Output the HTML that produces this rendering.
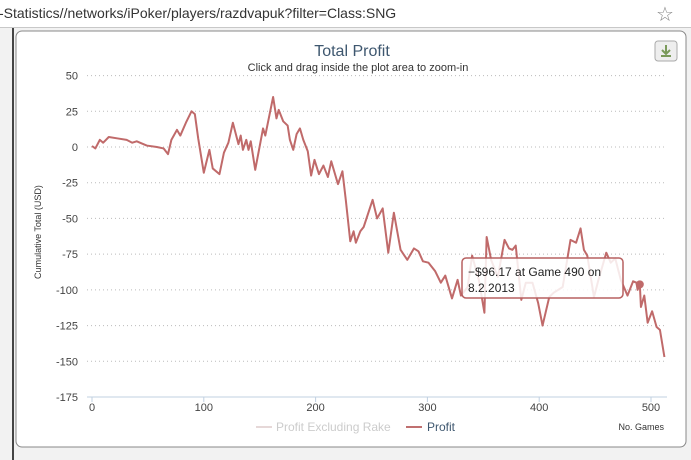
<!DOCTYPE html>
<html><head><meta charset="utf-8">
<style>
body{margin:0;width:691px;height:460px;overflow:hidden;background:#fff;font-family:"Liberation Sans","DejaVu Sans",sans-serif;}
#urlbar{position:absolute;left:0;top:0;width:691px;height:27px;background:#fff;border-bottom:1px solid #c8c8c8;}
#url{position:absolute;left:-1px;top:5px;font-size:14px;color:#333;}
#star{position:absolute;left:656px;top:2px;font-size:20px;color:#888;}
#frame{position:absolute;left:0;top:28px;width:691px;height:432px;background:#f2f2f2;}
svg{position:absolute;left:0;top:0;}
</style></head><body>
<div id="urlbar"><span id="url">-Statistics//networks/iPoker/players/razdvapuk?filter=Class:SNG</span><span id="star">☆</span></div>
<div id="frame"></div>
<svg id="chart" width="691" height="460">
<rect x="12" y="28" width="2" height="432" fill="#444"/>
<rect x="16" y="31" width="670" height="416" rx="6" fill="#fff" stroke="#888"/>
<text x="352" y="56" text-anchor="middle" font-size="16" fill="#3e576f">Total Profit</text>
<text x="358" y="71" text-anchor="middle" font-size="11" fill="#333">Click and drag inside the plot area to zoom-in</text>
<g><rect x="655" y="41" width="22" height="20" rx="3" fill="#eee" stroke="#aaa"/><path d="M666 45v8M662 50l4 4 4-4M661 56h10" stroke="#7a9a5a" stroke-width="2" fill="none"/></g>
<text transform="translate(41,232) rotate(-90)" text-anchor="middle" font-size="9" fill="#333">Cumulative Total (USD)</text>
<g id="grid"></g><g id="ylab"></g><g id="xlab"></g>
<line x1="87" y1="397" x2="667" y2="397" stroke="#c0d0e0"/>
<g id="series"></g>
<g><rect x="462" y="258" width="161" height="40" rx="4" fill="#fff" fill-opacity="0.85" stroke="#b76060" stroke-width="1.5"/>
<text x="468" y="276" font-size="12" fill="#222">−$96.17 at Game 490 on</text><text x="468" y="292" font-size="12" fill="#222">8.2.2013</text></g>
<g><line x1="256" y1="427" x2="272" y2="427" stroke="#e6d8d8" stroke-width="2"/><text x="276" y="431" font-size="12" fill="#ccc">Profit Excluding Rake</text></g>
<g><line x1="406" y1="427" x2="422" y2="427" stroke="#c07070" stroke-width="2"/><text x="427" y="431" font-size="12" fill="#3e576f">Profit</text></g>
<text x="664" y="430" text-anchor="end" font-size="9" fill="#333">No. Games</text>
</svg>
<script>
const yTicks=[50,25,0,-25,-50,-75,-100,-125,-150,-175];
const xTicks=[0,100,200,300,400,500];
const games=[0,3,7,10,15,23,31,36,40,49,58,64,68,71,76,79,84,89,92,95,100,105,108,114,118,122,126,131,133,135,138,140,142,146,153,155,162,165,167,171,175,177,180,183,186,189,193,196,199,203,207,211,214,220,224,227,231,234,236,240,243,251,255,260,265,270,276,282,288,292,296,301,307,312,316,322,327,330,336,340,346,351,353,357,363,369,373,376,379,384,388,394,399,403,409,413,421,428,433,437,440,443,449,453,460,464,468,473,479,484,487,488,490,491,494,497,501,505,508,512];
const profit=[0.7,-1,5,3,7,6,5,3,4,1,0,-1,-5,5,12,8,17,25,23,6,-18,-2,-15,-19,-4,3,17,2,8,-2,5,-2,4,-16,13,8,35,20,26,18,15,5,-2,9,13,5,-3,-20,-9,-19,-13,-21,-10,-26,-17,-37,-66,-59,-67,-59,-56,-37,-50,-43,-74,-46,-72,-79,-71,-73,-80,-81,-87,-95,-90,-106,-93,-104,-98,-76,-93,-116,-63,-79,-91,-65,-71,-72,-69,-107,-95,-95,-109,-125,-105,-102,-98,-65,-67,-57,-72,-76,-105,-93,-74,-81,-78,-93,-104,-94,-95,-100,-96.17,-112,-104,-123,-115,-126,-128,-147];
const NS="http://www.w3.org/2000/svg";
const xs=g=>92+g*(651-92)/500;
const ys=v=>147-v*(250/175);
const grid=document.getElementById('grid'),ylab=document.getElementById('ylab'),xlab=document.getElementById('xlab');
yTicks.forEach(t=>{
 if(t>-175){const l=document.createElementNS(NS,'line');
 
 
 l.setAttribute('x1',87);l.setAttribute('x2',667);l.setAttribute('y1',ys(t));l.setAttribute('y2',ys(t));
 l.setAttribute('stroke','#bbb');l.setAttribute('stroke-dasharray','1,3');grid.appendChild(l);}
 const tx=document.createElementNS(NS,'text');
 
 
 tx.setAttribute('x',78);tx.setAttribute('y',ys(t)+4);tx.setAttribute('text-anchor','end');tx.setAttribute('font-size','11');tx.setAttribute('fill','#444');
 tx.textContent=t;ylab.appendChild(tx);
});
xTicks.forEach(t=>{
 const l=document.createElementNS(NS,'line');
 
 
 l.setAttribute('x1',xs(t));l.setAttribute('x2',xs(t));l.setAttribute('y1',397);l.setAttribute('y2',402);l.setAttribute('stroke','#c0d0e0');xlab.appendChild(l);
 const tx=document.createElementNS(NS,'text');
 
 
 tx.setAttribute('x',xs(t));tx.setAttribute('y',411);tx.setAttribute('text-anchor','middle');tx.setAttribute('font-size','11');tx.setAttribute('fill','#444');
 tx.textContent=t;xlab.appendChild(tx);
});
const p=document.createElementNS(NS,'polyline');


p.setAttribute('points',games.map((g,i)=>xs(g)+','+ys(profit[i])).join(' '));
p.setAttribute('fill','none');p.setAttribute('stroke','#c06a6a');p.setAttribute('stroke-width','2');p.setAttribute('stroke-linejoin','round');
document.getElementById('series').appendChild(p);
const m=document.createElementNS(NS,'circle');


const hi=games.indexOf(490);
m.setAttribute('cx',xs(games[hi]));m.setAttribute('cy',ys(profit[hi]));m.setAttribute('r',4);m.setAttribute('fill','#c06a6a');
document.getElementById('series').appendChild(m);
</script>
</body></html>
